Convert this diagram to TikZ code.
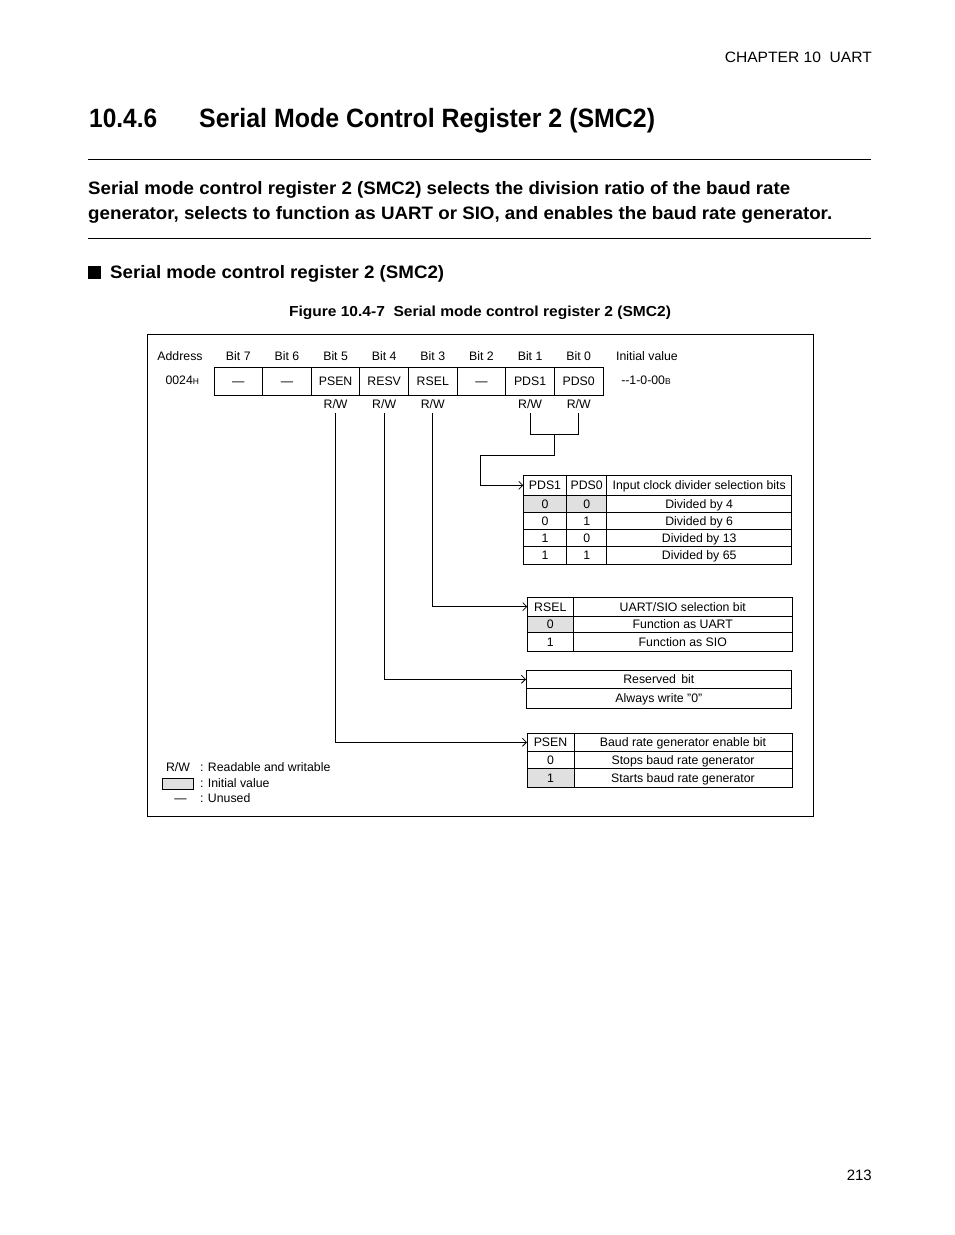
\documentclass[tikz,border=0pt]{standalone}
\usepackage{fontspec}
\setmainfont{Liberation Sans}
\usetikzlibrary{arrows.meta,calc}
\definecolor{initgrey}{gray}{0.88}
\newcommand{\fs}{\fontsize{12.3}{14}\selectfont}
\newcommand{\sm}{\fontsize{8.5}{9}\selectfont}
\newcommand{\cellbox}[7]{\node[cellst, fill=#7, minimum width={(#4)-(#2)}, minimum height={(#5)-(#3)}] (#1) at ({((#2)+(#4))/2},{((#3)+(#5))/2}) {#6};}
\begin{document}
\begin{tikzpicture}[x=1pt,y=-1pt,
  ft/.style={inner sep=0pt, outer sep=0pt, font=\fs, text height=8.8pt, text depth=0pt},
  cellst/.style={draw, line width=0.9pt, inner sep=0pt, outer sep=0pt, font=\fs, text height=8.8pt, text depth=0pt},
  conn/.style={line width=0.9pt},
  arr/.style={line width=0.9pt, -{Straight Barb[length=4pt,width=8pt,line width=0.8pt]}},
  rule/.style={line width=1pt}
]
\useasboundingbox (0,0) rectangle (954,1235);
\fill[white] (0,0) rectangle (954,1235);

% page header
\node[anchor=base east, inner sep=0pt, font=\fontsize{15}{18}\selectfont] (chap) at (872,62.5) {\resizebox{147pt}{\height}{CHAPTER 10\ \ UART}};
\node[anchor=base west, inner sep=0pt, font=\fontsize{26.5}{30}\selectfont\bfseries] (secnum) at (89,127.5) {\resizebox{68pt}{\height}{10.4.6}};
\node[anchor=base west, inner sep=0pt, font=\fontsize{26.5}{30}\selectfont\bfseries] (sectitle) at (199,127.5) {\resizebox{456pt}{\height}{Serial Mode Control Register 2 (SMC2)}};
\draw[rule] (88,159) -- (871,159);
\node[anchor=base west, inner sep=0pt, font=\fontsize{18}{22}\selectfont\bfseries] (par1) at (88,194.5) {\resizebox{702pt}{\height}{Serial mode control register 2 (SMC2) selects the division ratio of the baud rate}};
\node[anchor=base west, inner sep=0pt, font=\fontsize{18}{22}\selectfont\bfseries] (par2) at (88,219.5) {\resizebox{744pt}{\height}{generator, selects to function as UART or SIO, and enables the baud rate generator.}};
\draw[rule] (88,238) -- (871,238);
\fill (88,266) rectangle (101,279);
\node[anchor=base west, inner sep=0pt, font=\fontsize{18}{22}\selectfont\bfseries] (subhead) at (110,278.5) {\resizebox{334pt}{\height}{Serial mode control register 2 (SMC2)}};
\node[anchor=base, inner sep=0pt, font=\fontsize{14.5}{17}\selectfont\bfseries] (caption) at (480,316) {\resizebox{382pt}{\height}{Figure 10.4-7\ \ Serial mode control register 2 (SMC2)}};

% figure frame
\draw[line width=1pt] (147.3,334) rectangle (813.3,816.7);

% register header row
\node[ft] (addr) at (180,356) {Address};
\node[ft] (l7) at (238.3,356) {Bit 7};
\node[ft] (l6) at (286.9,356) {Bit 6};
\node[ft] (l5) at (335.6,356) {Bit 5};
\node[ft] (l4) at (384.2,356) {Bit 4};
\node[ft] (l3) at (432.8,356) {Bit 3};
\node[ft] (l2) at (481.4,356) {Bit 2};
\node[ft] (l1) at (530.1,356) {Bit 1};
\node[ft] (l0) at (578.7,356) {Bit 0};
\node[ft] (initlbl) at (647,356) {Initial value};

% register cells
\node[ft, anchor=east] (addrval) at (199,380) {0024{\sm H}};
\cellbox{b7}{214}{367}{262.6}{395.5}{—}{white}
\cellbox{b6}{262.6}{367}{311.3}{395.5}{—}{white}
\cellbox{b5}{311.3}{367}{359.9}{395.5}{PSEN}{white}
\cellbox{b4}{359.9}{367}{408.5}{395.5}{RESV}{white}
\cellbox{b3}{408.5}{367}{457.1}{395.5}{RSEL}{white}
\cellbox{b2}{457.1}{367}{505.8}{395.5}{—}{white}
\cellbox{b1}{505.8}{367}{554.4}{395.5}{PDS1}{white}
\cellbox{b0}{554.4}{367}{603}{395.5}{PDS0}{white}
\node[ft] (initval) at (646,380) {-{}-1-0-00{\sm B}};

% access row
\node[ft] (rw5) at (335.6,404) {R/W};
\node[ft] (rw4) at (384.2,404) {R/W};
\node[ft] (rw3) at (432.8,404) {R/W};
\node[ft] (rw1) at (530.1,404) {R/W};
\node[ft] (rw0) at (578.7,404) {R/W};

% PDS table
\cellbox{pa}{523.3}{475.7}{566.7}{495}{PDS1}{white}
\cellbox{pb}{566.7}{475.7}{606.7}{495}{PDS0}{white}
\cellbox{pc}{606.7}{475.7}{791.7}{495}{Input clock divider selection bits}{white}
\cellbox{pa1}{523.3}{495}{566.7}{512.7}{0}{initgrey}
\cellbox{pb1}{566.7}{495}{606.7}{512.7}{0}{initgrey}
\cellbox{pc1}{606.7}{495}{791.7}{512.7}{Divided by 4}{white}
\cellbox{pa2}{523.3}{512.7}{566.7}{529.3}{0}{white}
\cellbox{pb2}{566.7}{512.7}{606.7}{529.3}{1}{white}
\cellbox{pc2}{606.7}{512.7}{791.7}{529.3}{Divided by 6}{white}
\cellbox{pa3}{523.3}{529.3}{566.7}{546.7}{1}{white}
\cellbox{pb3}{566.7}{529.3}{606.7}{546.7}{0}{white}
\cellbox{pc3}{606.7}{529.3}{791.7}{546.7}{Divided by 13}{white}
\cellbox{pa4}{523.3}{546.7}{566.7}{564}{1}{white}
\cellbox{pb4}{566.7}{546.7}{606.7}{564}{1}{white}
\cellbox{pc4}{606.7}{546.7}{791.7}{564}{Divided by 65}{white}

% RSEL table
\cellbox{ra}{527.3}{597.3}{573.3}{616}{RSEL}{white}
\cellbox{rb}{573.3}{597.3}{792.3}{616}{UART/SIO selection bit}{white}
\cellbox{ra1}{527.3}{616}{573.3}{632.7}{0}{initgrey}
\cellbox{rb1}{573.3}{616}{792.3}{632.7}{Function as UART}{white}
\cellbox{ra2}{527.3}{632.7}{573.3}{651.7}{1}{white}
\cellbox{rb2}{573.3}{632.7}{792.3}{651.7}{Function as SIO}{white}

% Reserved table
\cellbox{va}{526}{670}{791.7}{688.5}{Reserved\, bit}{white}
\cellbox{va1}{526}{688.5}{791.7}{708.3}{Always write "0"}{white}

% PSEN table
\cellbox{sa}{527}{733}{574}{751.5}{PSEN}{white}
\cellbox{sb}{574}{733}{792}{751.5}{Baud rate generator enable bit}{white}
\cellbox{sa1}{527}{751.5}{574}{768.5}{0}{white}
\cellbox{sb1}{574}{751.5}{792}{768.5}{Stops baud rate generator}{white}
\cellbox{sa2}{527}{768.5}{574}{787}{1}{initgrey}
\cellbox{sb2}{574}{768.5}{792}{787}{Starts baud rate generator}{white}

% connectors
\coordinate (s5) at ([yshift=-4.6pt]rw5.south);
\coordinate (s4) at ([yshift=-4.6pt]rw4.south);
\coordinate (s3) at ([yshift=-4.6pt]rw3.south);
\coordinate (s1) at ([yshift=-4.6pt]rw1.south);
\coordinate (s0) at ([yshift=-4.6pt]rw0.south);
\coordinate (jl) at (s1 |- 0,434);
\coordinate (jr) at (s0 |- 0,434);
\coordinate (jm) at ($(jl)!0.5!(jr)$);
\coordinate (jd) at ([yshift=-21pt]jm);
\coordinate (jk) at (480.7,455);
\draw[conn] (s1) -- (jl) -- (jr) -- (s0);
\draw[arr] (jm) -- (jd) -- (jk) |- (pa.west);
\draw[arr] (s3) |- (ra.west);
\draw[arr] (s4) |- (va.west);
\draw[arr] (s5) |- (sa.west);

% legend
\node[ft] (lgrw) at (178,767) {R/W};
\node[ft, anchor=west] (lgrwt) at (200,767) {: Readable and writable};
\node[draw, line width=0.6pt, fill=initgrey, minimum width=31pt, minimum height=11pt, inner sep=0pt] (lgbox) at (177.5,783.5) {};
\node[ft, anchor=west] (lgboxt) at (200,783) {: Initial value};
\node[ft] (lgdash) at (180.5,798) {—};
\node[ft, anchor=west] (lgdasht) at (200,798) {: Unused};

% page number
\node[anchor=base east, inner sep=0pt, font=\fontsize{15}{18}\selectfont] (pagenum) at (872,1180.5) {213};
\end{tikzpicture}
\end{document}
